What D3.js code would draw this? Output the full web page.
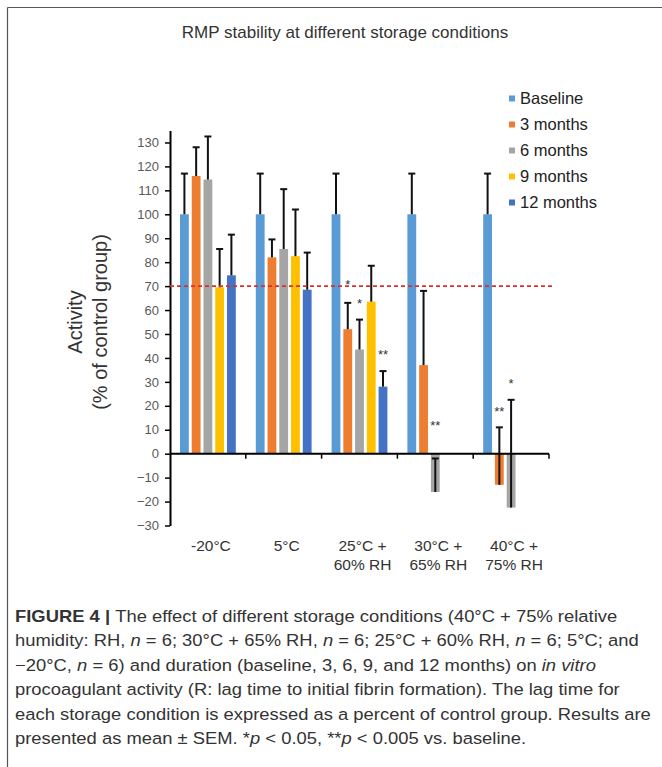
<!DOCTYPE html>
<html>
<head>
<meta charset="utf-8">
<script src="https://cdn.jsdelivr.net/npm/d3@7"></script>
<style>
  body { margin: 0; background: #fff; }
  svg { display: block; font-family: "Liberation Sans", Arial, sans-serif; }
</style>
</head>
<body>
<script>
// categories (two-line tick labels)
const categories = ["-20°C", "5°C", "25°C +", "30°C +", "40°C +"];
const catLine2 = ["", "", "60% RH", "65% RH", "75% RH"];

const series = ["Baseline", "3 months", "6 months", "9 months", "12 months"];
const colors = ["#5B9BD5", "#ED7D31", "#A5A5A5", "#FFC000", "#4472C4"];

// mean activity (% of control), one array per series
const baseline = [100, 100, 100, 100, 100];
const m3 = [116, 82, 52, 37, -13];
const m6 = [114.5, 85.5, 43.5, -16, -22.5];
const m9 = [69.5, 82.5, 63.5, null, null];
const m12 = [74.5, 68.5, 28, null, null];

// plus-direction SEM
const errBaseline = [17, 17, 17, 17, 17];
const err3 = [12, 7.5, 11, 31, 24];
const err6 = [18, 25, 12.5, 14, 45];
const err9 = [16, 19.5, 15, null, null];
const err12 = [17, 15.5, 6.5, null, null];

const yTicks = d3.range(-30, 131, 10);
const threshold = 70;

// significance marks: category index, series index, value where the mark sits
const marks = [
  {c: 2, s: 1, v: 71.8, t: "*"},
  {c: 2, s: 2, v: 63.9, t: "*"},
  {c: 2, s: 4, v: 42.6, t: "**"},
  {c: 3, s: 2, v: 12.7, t: "**"},
  {c: 4, s: 1, v: 18.5, t: "**"},
  {c: 4, s: 2, v: 30.5, t: "*"}
];

const values = [baseline, m3, m6, m9, m12];
const errors = [errBaseline, err3, err6, err9, err12];

const W = 662, H = 767;
const svg = d3.select("body").append("svg").attr("width", W).attr("height", H);

// frame
svg.append("line").attr("x1", 7.5).attr("y1", 7.5).attr("x2", W).attr("y2", 7.5)
  .attr("stroke", "#555").attr("stroke-width", 1.2);
svg.append("line").attr("x1", 7.5).attr("y1", 7.5).attr("x2", 7.5).attr("y2", H)
  .attr("stroke", "#555").attr("stroke-width", 1.2);

let x0 = d3.scaleBand().domain(categories).range([170, 549]);
let x1 = d3.scaleBand().domain(series).range([10, x0.bandwidth() - 10]).paddingInner(0.25);
let y = d3.scaleLinear().domain([-30, 135]).range([525.5, 130.5]);

// title
svg.append("text")
  .attr("x", 345).attr("y", 38)
  .attr("text-anchor", "middle")
  .attr("font-size", 17).attr("fill", "#333")
  .text("RMP stability at different storage conditions");

// bars
const data = [];
series.forEach((s, si) => {
  categories.forEach((c, ci) => {
    const v = values[si][ci];
    if (v !== null) data.push({s, si, c, v, e: errors[si][ci]});
  });
});

svg.selectAll(".bar")
  .data(data)
  .enter().append("rect")
    .attr("class", "bar")
    .attr("x", d => x0(d.c) + x1(d.s))
    .attr("y", d => y(Math.max(0, d.v)))
    .attr("width", x1.bandwidth())
    .attr("height", d => Math.abs(y(d.v) - y(0)))
    .attr("fill", d => colors[d.si]);

// error bars (plus direction only)
const eb = svg.selectAll(".err").data(data).enter().append("g").attr("class", "err")
  .attr("stroke", "#111").attr("stroke-width", 2);
eb.append("line")
  .attr("x1", d => x0(d.c) + x1(d.s) + x1.bandwidth() / 2)
  .attr("x2", d => x0(d.c) + x1(d.s) + x1.bandwidth() / 2)
  .attr("y1", d => y(d.v))
  .attr("y2", d => y(d.v + d.e));
eb.append("line")
  .attr("x1", d => x0(d.c) + x1(d.s) + x1.bandwidth() / 2 - 3.5)
  .attr("x2", d => x0(d.c) + x1(d.s) + x1.bandwidth() / 2 + 3.5)
  .attr("y1", d => y(d.v + d.e))
  .attr("y2", d => y(d.v + d.e));

// y axis
const yAxis = svg.append("g")
  .attr("transform", "translate(170,0)")
  .call(d3.axisLeft(y).tickValues(yTicks).tickSize(5).tickSizeOuter(0).tickPadding(6));
yAxis.select(".domain").attr("stroke", "#000").attr("stroke-width", 2);
yAxis.selectAll(".tick line").attr("stroke", "#000").attr("stroke-width", 1.5);
yAxis.selectAll(".tick text").attr("font-size", 13).attr("fill", "#595959")
  .attr("font-family", "Liberation Sans, Arial, sans-serif");

// x axis at zero
svg.append("line")
  .attr("x1", 170).attr("x2", x0.range()[1])
  .attr("y1", y(0)).attr("y2", y(0))
  .attr("stroke", "#000").attr("stroke-width", 2);
svg.selectAll(".xtick")
  .data(categories)
  .enter().append("line")
    .attr("class", "xtick")
    .attr("x1", d => x0(d) + x0.bandwidth())
    .attr("x2", d => x0(d) + x0.bandwidth())
    .attr("y1", y(0)).attr("y2", y(0) + 5)
    .attr("stroke", "#000").attr("stroke-width", 1.5);

const xl = svg.selectAll(".xlab")
  .data(categories)
  .enter().append("text")
    .attr("class", "xlab")
    .attr("text-anchor", "middle")
    .attr("font-size", 15.5)
    .attr("fill", "#333");
xl.append("tspan")
  .attr("x", d => x0(d) + x0.bandwidth() / 2 + 3)
  .attr("y", 551)
  .text(d => d);
xl.append("tspan")
  .attr("x", d => x0(d) + x0.bandwidth() / 2 + 3)
  .attr("y", 570)
  .text((d, i) => catLine2[i]);

// y axis title
svg.append("text")
  .attr("transform", "translate(82,322) rotate(-90)")
  .attr("text-anchor", "middle")
  .attr("font-size", 20).attr("fill", "#333")
  .text("Activity");
svg.append("text")
  .attr("transform", "translate(107,322) rotate(-90)")
  .attr("text-anchor", "middle")
  .attr("font-size", 20).attr("fill", "#333")
  .text("(% of control group)");

// threshold line
svg.append("line")
  .attr("x1", 170).attr("x2", 553)
  .attr("y1", y(threshold)).attr("y2", y(threshold))
  .attr("stroke", "#D9302C").attr("stroke-width", 1.6)
  .attr("stroke-dasharray", "4,3");

// significance marks
svg.selectAll(".mark")
  .data(marks)
  .enter().append("text")
    .attr("class", "mark")
    .attr("x", d => x0(categories[d.c]) + x1(series[d.s]) + x1.bandwidth() / 2)
    .attr("y", d => y(d.v) + 7)
    .attr("text-anchor", "middle")
    .attr("font-size", 13).attr("fill", "#333")
    .text(d => d.t);

// legend
const lg = svg.selectAll(".leg")
  .data(series)
  .enter().append("g")
    .attr("class", "leg")
    .attr("transform", (d, i) => "translate(509," + (98.5 + i * 26) + ")");
lg.append("rect").attr("x", 0).attr("y", -3).attr("width", 6).attr("height", 6)
  .attr("fill", (d, i) => colors[i]);
lg.append("text").attr("x", 11).attr("dy", "0.35em")
  .attr("font-size", 16.5).attr("fill", "#222")
  .text(d => d);

// caption, narrowed uniformly so the longest line ends where it does in the figure
const caption = [
  [["FIGURE 4 | ", "b"], ["The effect of different storage conditions (40°C + 75% relative", ""]],
  [["humidity: RH, ", ""], ["n", "i"], [" = 6; 30°C + 65% RH, ", ""], ["n", "i"],
   [" = 6; 25°C + 60% RH, ", ""], ["n", "i"], [" = 6; 5°C; and", ""]],
  [["−20°C, ", ""], ["n", "i"], [" = 6) and duration (baseline, 3, 6, 9, and 12 months) on ", ""], ["in vitro", "i"]],
  [["procoagulant activity (R: lag time to initial fibrin formation). The lag time for", ""]],
  [["each storage condition is expressed as a percent of control group. Results are", ""]],
  [["presented as mean ± SEM. *", ""], ["p", "i"], [" < 0.05, **", ""], ["p", "i"], [" < 0.005 vs. baseline.", ""]]
];

const cap = svg.append("g");
const capTexts = caption.map((line, i) => {
  const t = cap.append("text")
    .attr("x", 0).attr("y", 622 + i * 24.5)
    .attr("font-size", 16.5).attr("fill", "#333");
  line.forEach(p => {
    t.append("tspan")
      .attr("font-weight", p[1] === "b" ? "bold" : null)
      .attr("font-style", p[1] === "i" ? "italic" : null)
      .text(p[0]);
  });
  return t;
});
const w5 = capTexts[4].node().getComputedTextLength();
cap.attr("transform", "translate(15,0) scale(" + ((651 - 15) / w5) + ",1)");
</script>
</body>
</html>
